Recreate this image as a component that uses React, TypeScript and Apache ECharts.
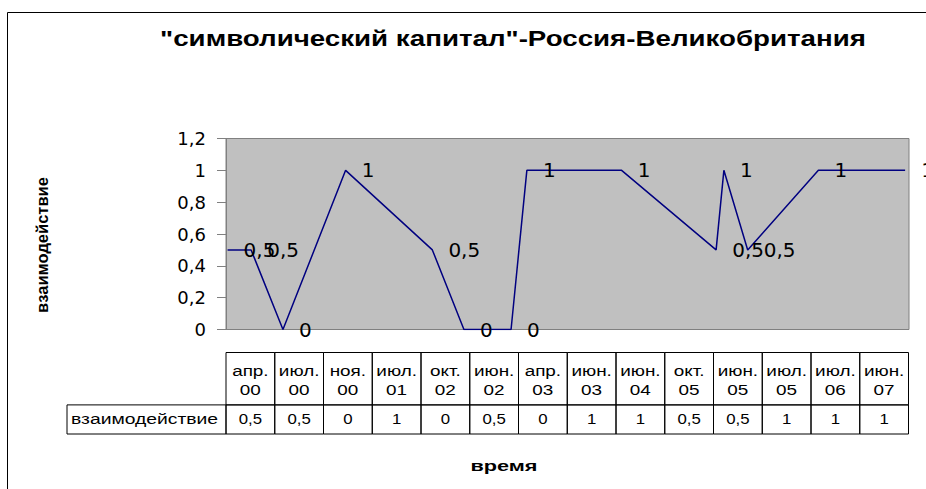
import React, { useEffect, useRef } from "react";
import * as echarts from "echarts";

const chartTitle = '"символический капитал"-Россия-Великобритания';
const seriesName = "взаимодействие";
const xAxisName = "время";
const categories = [
  "апр. 00", "июл. 00", "ноя. 00", "июл. 01", "окт. 02", "июн. 02", "апр. 03",
  "июн. 03", "июн. 04", "окт. 05", "июн. 05", "июл. 05", "июл. 06", "июн. 07",
];
const dates = [
  "2000-04-01", "2000-07-01", "2000-11-01", "2001-07-01", "2002-10-01", "2002-06-01", "2003-04-01",
  "2003-06-01", "2004-06-01", "2005-10-01", "2005-06-01", "2005-07-01", "2006-07-01", "2007-06-01",
];
const values = [0.5, 0.5, 0, 1, 0, 0.5, 0, 1, 1, 0.5, 0.5, 1, 1, 1];
const yMin = 0;
const yMax = 1.2;
const yStep = 0.2;

const fmt = (v: number) => String(Math.round(v * 10) / 10).replace(".", ",");

export default function App() {
  const ref = useRef<HTMLDivElement>(null);
  useEffect(() => {
    if (!ref.current) return;
    const chart = echarts.init(ref.current, undefined, { renderer: "svg" });
    const linePts = dates
      .map((d, i) => [d, values[i]] as [string, number])
      .sort((a, b) => new Date(a[0]).getTime() - new Date(b[0]).getTime());
    const STRETCH = 1.2;
    const option: any = {
      animation: false,
      backgroundColor: "#ffffff",
      graphic: [
        {
          type: "rect",
          shape: { x: 7.5, y: 12.5, width: 1000, height: 1000 },
          style: { fill: "none", stroke: "#000", lineWidth: 1 },
          silent: true,
        },
        {
          type: "text",
          x: 513,
          y: 38,
          scaleX: 1.26,
          style: {
            text: chartTitle,
            align: "center",
            verticalAlign: "middle",
            fontFamily: "Liberation Sans",
            fontWeight: "bold",
            fontSize: 22,
            fill: "#000",
          },
        },
        {
          type: "text",
          x: 42,
          y: 245,
          rotation: Math.PI / 2,
          style: {
            text: seriesName,
            align: "center",
            verticalAlign: "middle",
            fontFamily: "Liberation Sans",
            fontWeight: "bold",
            fontSize: 16.5,
            fill: "#000",
          },
        },
        {
          type: "text",
          x: 504,
          y: 466,
          scaleX: 1.55,
          style: {
            text: xAxisName,
            align: "center",
            verticalAlign: "middle",
            fontFamily: "Liberation Sans",
            fontWeight: "bold",
            fontSize: 14,
            fill: "#000",
          },
        },
      ],
      grid: [
        {
          left: 226,
          right: 17,
          top: 138.5,
          height: 191,
          show: true,
          backgroundColor: "#C0C0C0",
          borderColor: "#808080",
          borderWidth: 1,
        },
        {
          left: 226,
          right: 17.5,
          top: 352.5,
          height: 81.5,
        },
      ],
      xAxis: [
        {
          type: "time",
          gridIndex: 0,
          min: new Date("2000-03-26").getTime(),
          max: new Date("2007-06-16").getTime(),
          show: false,
        },
        {
          type: "category",
          gridIndex: 1,
          data: categories,
          show: false,
          boundaryGap: true,
        },
      ],
      yAxis: [
        {
          type: "value",
          gridIndex: 0,
          min: yMin,
          max: yMax,
          interval: yStep,
          axisLine: { show: true, lineStyle: { color: "#808080", width: 1 } },
          axisTick: { show: true, length: 9, lineStyle: { color: "#808080" } },
          splitLine: { show: false },
          axisLabel: {
            formatter: (v: number) => fmt(v),
            color: "#000",
            fontFamily: "DejaVu Sans",
            fontSize: 18,
            margin: 20,
          },
        },
        {
          type: "value",
          gridIndex: 1,
          min: 0,
          max: 1,
          show: false,
        },
      ],
      series: [
        {
          type: "line",
          xAxisIndex: 0,
          yAxisIndex: 0,
          data: linePts,
          symbol: "circle",
          symbolSize: 0.1,
          showSymbol: true,
          showAllSymbol: true,
          lineStyle: { color: "#000080", width: 1.5 },
          itemStyle: { color: "rgba(0,0,128,0)" },
          label: {
            show: true,
            position: "right",
            distance: 16,
            formatter: (p: any) => fmt(p.value[1]),
            color: "#000",
            fontFamily: "DejaVu Sans",
            fontSize: 20,
          },
          labelLayout: { hideOverlap: false },
          z: 3,
        },
        {
          type: "custom",
          xAxisIndex: 1,
          yAxisIndex: 1,
          coordinateSystem: "cartesian2d",
          data: categories.map((c, i) => [i, values[i]]),
          renderItem: (params: any, api: any) => {
            const i = api.value(0);
            const v = api.value(1);
            const cs = params.coordSys;
            const cx = api.coord([i, 0])[0];
            const w = api.size([1, 0])[0];
            const x0 = cx - w / 2;
            const hH = cs.height * 0.643;
            const vH = cs.height - hH;
            const border = { fill: "none", stroke: "#000", lineWidth: 1 };
            const txt = {
              fontFamily: "Liberation Sans",
              fontSize: 14,
              fill: "#000",
              align: "center",
              verticalAlign: "middle",
            };
            const children: any[] = [
              { type: "rect", shape: { x: x0, y: cs.y, width: w, height: hH }, style: border },
              { type: "rect", shape: { x: x0, y: cs.y + hH, width: w, height: vH }, style: border },
              {
                type: "text",
                x: cx,
                y: cs.y + hH / 2 + 1,
                scaleX: 1.22,
                style: { ...txt, fontSize: 15.5, text: categories[i].split(" ").join("\n"), lineHeight: 19 },
              },
              {
                type: "text",
                x: cx,
                y: cs.y + hH + vH / 2,
                scaleX: STRETCH,
                style: { ...txt, text: fmt(v) },
              },
            ];
            if (i === 0) {
              const lw = 159;
              children.push(
                { type: "rect", shape: { x: x0 - lw, y: cs.y + hH, width: lw, height: vH }, style: border },
                {
                  type: "text",
                  x: x0 - lw + 4,
                  y: cs.y + hH + vH / 2,
                  scaleX: 1.38,
                  style: { ...txt, align: "left", text: seriesName },
                }
              );
            }
            return { type: "group", children };
          },
          z: 2,
        },
      ],
    };
    chart.setOption(option);
    return () => chart.dispose();
  }, []);
  return (
    <div
      ref={ref}
      style={{ position: "absolute", left: 0, top: 0, width: 926, height: 489 }}
    />
  );
}
